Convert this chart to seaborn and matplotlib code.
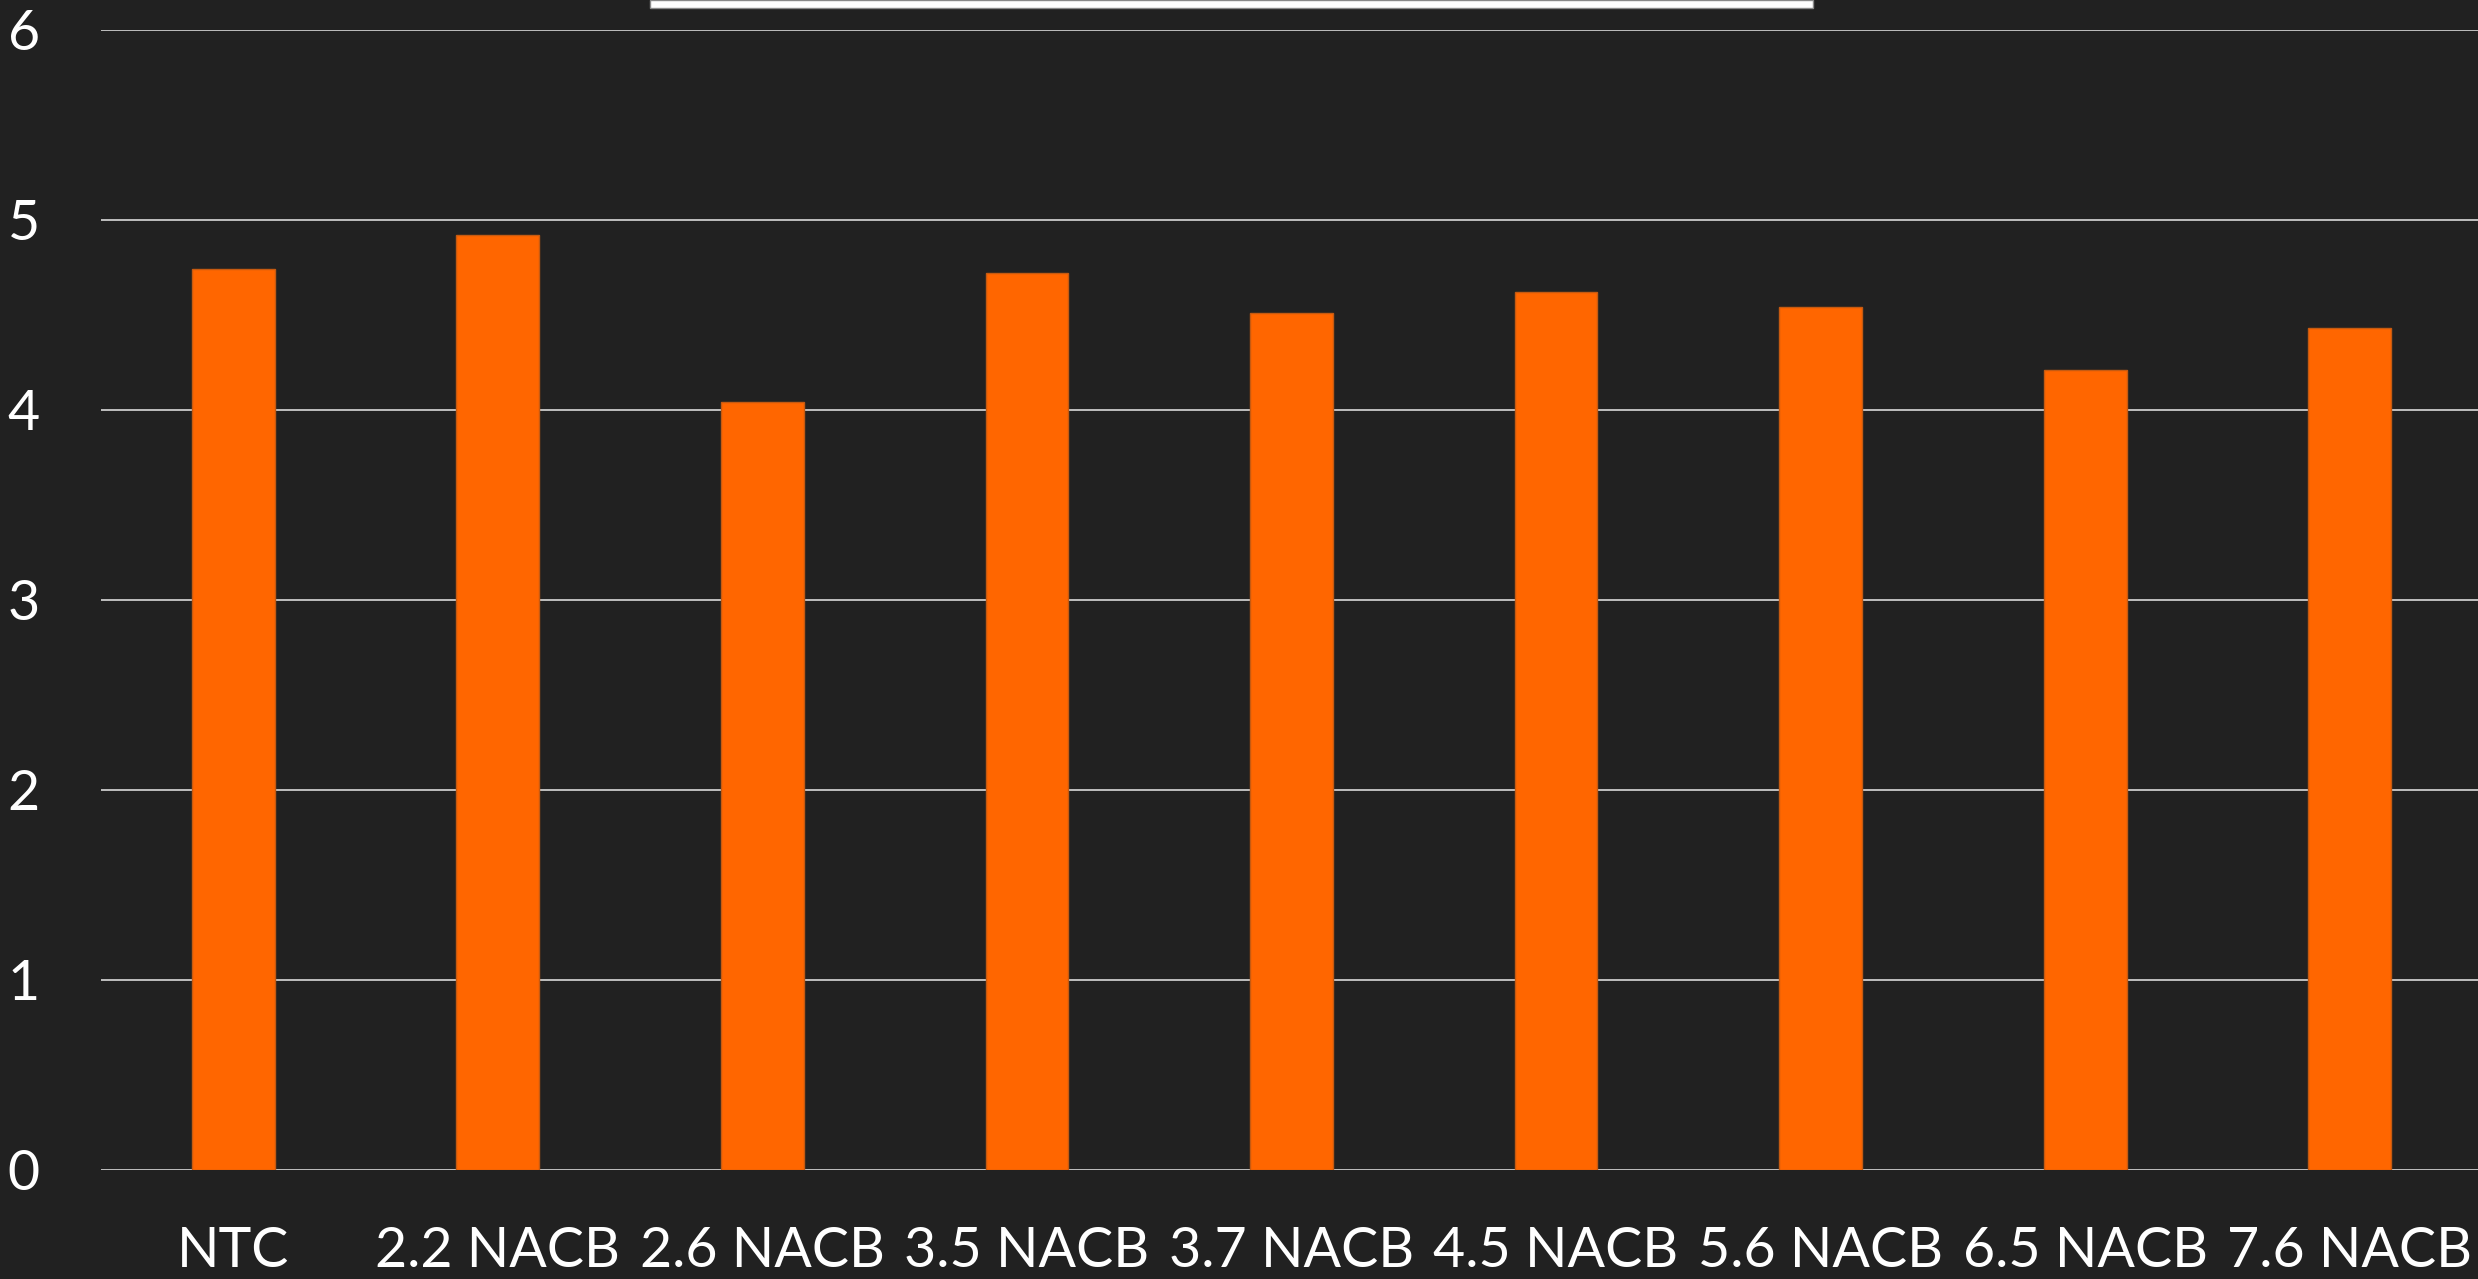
import matplotlib
matplotlib.use("Agg")
import matplotlib.pyplot as plt
import seaborn as sns
from matplotlib.patches import Rectangle

# datos del grafico
categorias = ["NTC", "2.2 NACB", "2.6 NACB", "3.5 NACB", "3.7 NACB",
              "4.5 NACB", "5.6 NACB", "6.5 NACB", "7.6 NACB"]
valores = [4.74, 4.92, 4.04, 4.72, 4.51, 4.62, 4.54, 4.21, 4.43]
y_ticks = [0, 1, 2, 3, 4, 5, 6]

fondo = "#212121"
naranja = "#FF6600"

sns.set_style("dark")
plt.rcParams["font.family"] = ["Lato", "DejaVu Sans"]

fig = plt.figure(figsize=(24.78, 12.79), dpi=100, facecolor=fondo)
ax = fig.add_axes([101 / 2478, 109 / 1279, 2381 / 2478, 1140 / 1279])
ax.set_facecolor(fondo)

sns.barplot(x=categorias, y=valores, color=naranja, width=0.313,
            edgecolor="#c55a11", linewidth=1, saturation=1, ax=ax, zorder=3)

ax.set_ylim(0, 6)
ax.set_yticks(y_ticks)
ax.grid(axis="y", color="#d9d9d9", linewidth=1.2, zorder=0)
ax.grid(axis="x", visible=False)
ax.set_axisbelow(True)
for s in ax.spines.values():
    s.set_visible(False)
ax.tick_params(axis="both", length=0, colors="white", labelsize=40)
ax.tick_params(axis="x", pad=40)
ax.tick_params(axis="y", pad=44)
ax.set_xlabel("")
ax.set_ylabel("")

# barra blanca cortada arriba (titulo/leyenda)
fig.patches.append(Rectangle((650 / 2478, 1 - 8 / 1279), 1163 / 2478, 8 / 1279,
                             transform=fig.transFigure, facecolor="white",
                             edgecolor="#8a8a8a", linewidth=1))

fig.savefig("out.png", dpi=100, facecolor=fondo)
